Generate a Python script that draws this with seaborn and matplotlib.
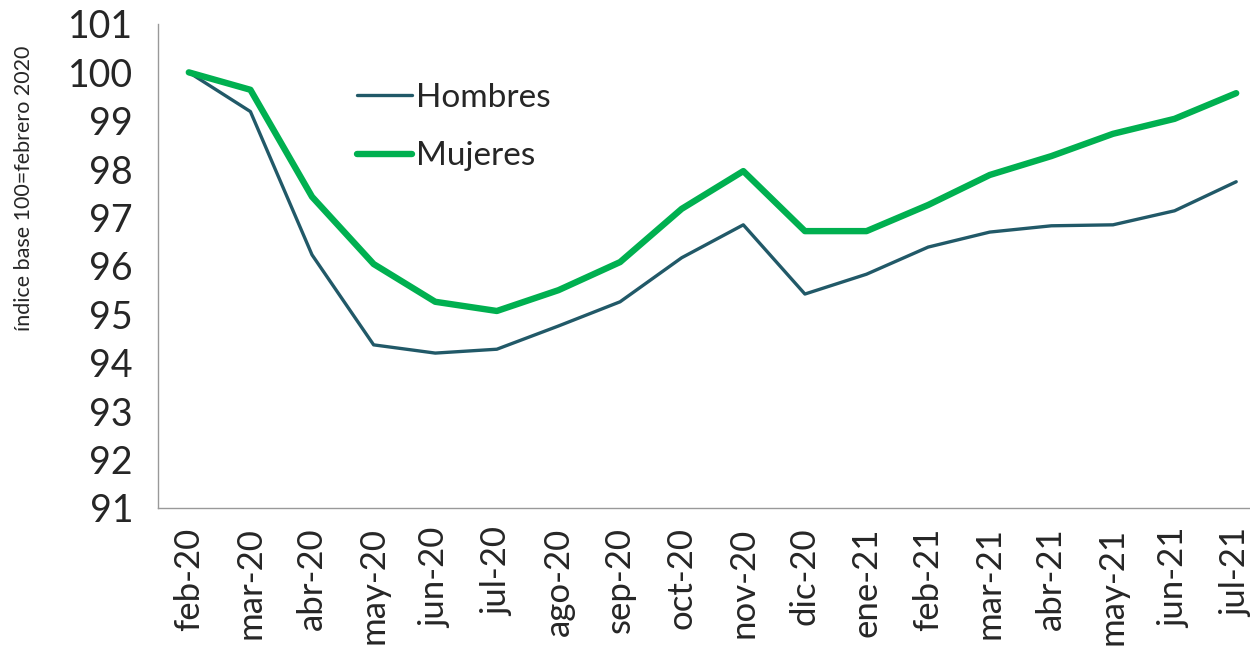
import pandas as pd
import numpy as np
import matplotlib
matplotlib.use("Agg")
import matplotlib.pyplot as plt
import seaborn as sns

meses = ['feb-20', 'mar-20', 'abr-20', 'may-20', 'jun-20', 'jul-20', 'ago-20', 'sep-20',
         'oct-20', 'nov-20', 'dic-20', 'ene-21', 'feb-21', 'mar-21', 'abr-21', 'may-21',
         'jun-21', 'jul-21']
hombres = [100.0, 99.19, 96.23, 94.37, 94.2, 94.28, 94.76, 95.26, 96.17, 96.85,
           95.42, 95.83, 96.39, 96.7, 96.83, 96.85, 97.14, 97.74]
mujeres = [100.0, 99.64, 97.43, 96.04, 95.26, 95.07, 95.5, 96.08, 97.18, 97.96,
           96.72, 96.72, 97.26, 97.88, 98.27, 98.73, 99.04, 99.57]
yticks = list(range(91, 102))

data = pd.DataFrame({
    'mes': meses * 2,
    'pos': list(range(len(meses))) * 2,
    'valor': hombres + mujeres,
    'serie': ['Hombres'] * len(meses) + ['Mujeres'] * len(meses),
})

sns.set_style("white")
plt.rcParams['font.family'] = ['Lato', 'DejaVu Sans']

fig = plt.figure(figsize=(12.5, 6.51), dpi=100)
ax = fig.add_axes([0.1264, 0.2197, 0.8872, 0.7435])

sns.lineplot(data=data, x='pos', y='valor', hue='serie', size='serie',
             palette={'Hombres': '#215968', 'Mujeres': '#00B050'},
             sizes={'Hombres': 2.4, 'Mujeres': 4.6}, ax=ax)

ax.set_xlim(-0.5, len(meses) - 0.5)
ax.set_ylim(91, 101)
ax.set_yticks(yticks)
ax.set_yticklabels([str(t) for t in yticks], fontsize=27)

ax.set_xticks(np.arange(-0.5, len(meses), 1.0))
ax.set_xticklabels([])
ax.set_xticks(np.arange(len(meses)), minor=True)
ax.set_xticklabels(meses, minor=True, rotation=90, fontsize=25)
ax.tick_params(axis='x', which='major', length=12, width=1, color='#999999', direction='out')
ax.tick_params(axis='x', which='minor', length=0, pad=14)
ax.tick_params(axis='y', length=12, width=1, color='#999999', direction='out', pad=6)

for side in ['top', 'right']:
    ax.spines[side].set_visible(False)
for side in ['left', 'bottom']:
    ax.spines[side].set_color('#999999')
    ax.spines[side].set_linewidth(1)

ax.set_xlabel('')
ax.set_ylabel('índice base 100=febrero 2020', fontsize=15.5)
ax.yaxis.set_label_coords(-0.112, 0.66)

leg = ax.legend(loc='upper left', bbox_to_anchor=(0.152, 0.94), frameon=False,
                fontsize=24, handlelength=1.65, handletextpad=0.12, labelspacing=0.85)

fig.savefig("out.png", dpi=100)
